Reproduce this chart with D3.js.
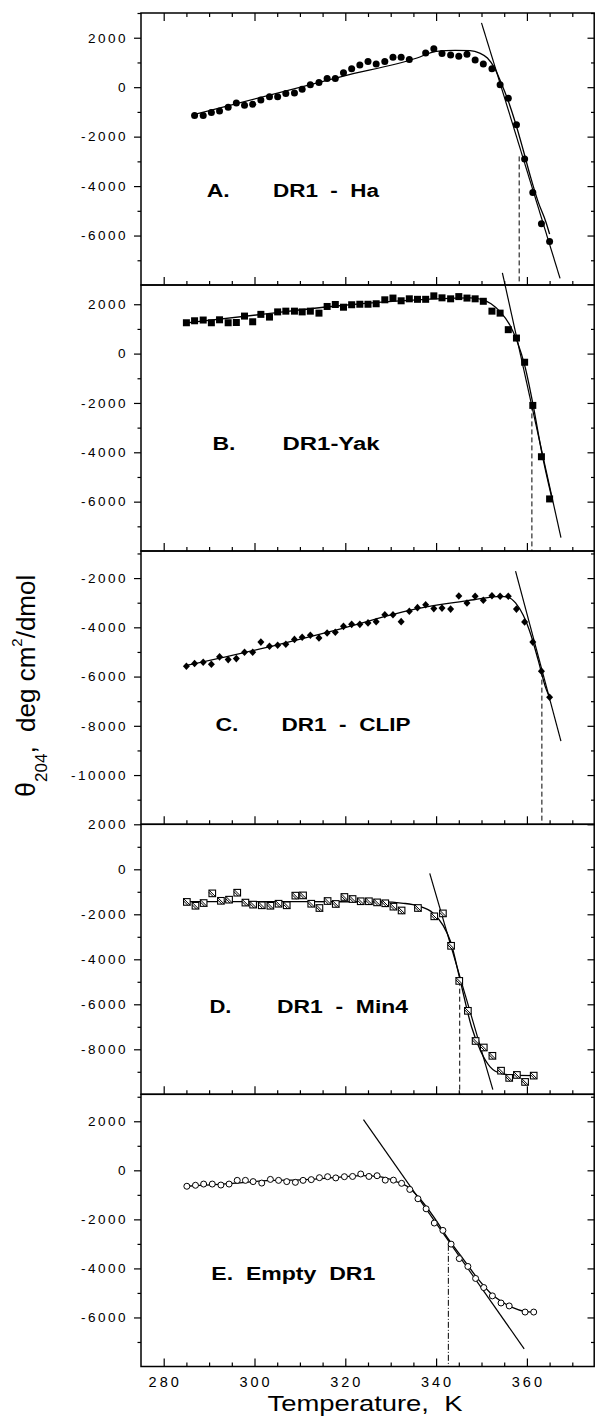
<!DOCTYPE html>
<html>
<head>
<meta charset="utf-8">
<script src="https://cdn.jsdelivr.net/npm/d3@7"></script>
<style>
  body { margin: 0; background: #fff; }
  svg { display: block; }
  text { font-family: "Liberation Sans", Arial, Helvetica, sans-serif; fill: #000; }
</style>
</head>
<body>
<div id="chart"></div>
<script>
// ---- data (temperature in K, theta in deg cm2/dmol) ----
const tempsA = [286.8, 288.7, 290.5, 292.3, 294.2, 296.0, 297.8, 299.6, 301.4, 303.3, 305.1, 306.9, 308.8, 310.5, 312.3, 314.2, 316.0, 317.8, 319.6, 321.4, 323.2, 325.0, 326.8, 328.7, 330.5, 332.3, 334.1, 337.7, 339.5, 341.3, 343.2, 345.0, 346.8, 348.6, 350.4, 352.3, 354.1, 355.9, 357.7, 359.5, 361.3, 363.2, 365.0];
const valuesA = [-1150, -1150, -1020, -960, -810, -640, -730, -690, -520, -390, -390, -260, -240, -80, 100, 190, 350, 350, 580, 750, 900, 1040, 940, 1040, 1210, 1210, 1120, 1380, 1550, 1360, 1300, 1250, 1330, 1100, 940, 750, 100, -450, -1520, -2900, -4260, -5520, -6240];

const tempsB = [285.0, 286.8, 288.7, 290.5, 292.3, 294.2, 296.0, 297.8, 299.6, 301.4, 303.3, 305.1, 306.9, 308.8, 310.5, 312.3, 314.2, 316.0, 317.8, 319.6, 321.4, 323.2, 325.0, 326.8, 328.7, 330.5, 332.3, 334.1, 335.9, 337.7, 339.5, 341.3, 343.2, 345.0, 346.8, 348.6, 350.4, 352.3, 354.1, 355.9, 357.7, 359.5, 361.3, 363.2, 365.0];
const valuesB = [1250, 1330, 1360, 1250, 1370, 1250, 1260, 1520, 1290, 1590, 1480, 1690, 1720, 1720, 1690, 1720, 1640, 1910, 1990, 1880, 1980, 2000, 2000, 2020, 2180, 2250, 2140, 2220, 2200, 2200, 2340, 2260, 2220, 2310, 2250, 2220, 2120, 1720, 1640, 970, 630, -350, -2100, -4180, -5890];

const tempsC = tempsB;
const valuesC = [-5580, -5470, -5420, -5500, -5200, -5310, -5270, -5010, -5010, -4600, -4770, -4730, -4690, -4490, -4400, -4320, -4430, -4230, -4200, -3960, -3880, -3880, -3820, -3770, -3490, -3490, -3770, -3350, -3200, -3080, -3240, -3220, -3260, -2730, -3010, -2740, -2900, -2720, -2740, -2740, -3260, -3780, -4600, -5780, -6840];

const tempsD = [285.1, 287.0, 288.8, 290.7, 292.6, 294.4, 296.2, 298.0, 299.7, 301.6, 303.5, 305.3, 307.1, 309.0, 310.7, 312.5, 314.3, 316.1, 317.9, 319.8, 321.6, 323.4, 325.2, 327.0, 328.8, 330.6, 332.4, 336.0, 339.6, 341.5, 343.3, 345.1, 347.0, 348.7, 350.5, 352.4, 354.3, 356.1, 357.8, 359.6, 361.5];
const valuesD = [-1450, -1620, -1500, -1070, -1400, -1350, -1040, -1480, -1570, -1600, -1620, -1530, -1600, -1170, -1160, -1530, -1720, -1410, -1540, -1230, -1320, -1420, -1420, -1470, -1510, -1660, -1830, -1720, -2090, -1960, -3400, -4960, -6290, -7630, -7920, -8290, -8950, -9270, -9140, -9450, -9170];

const tempsE = [285.1, 287.0, 288.8, 290.7, 292.6, 294.4, 296.2, 298.0, 299.7, 301.6, 303.5, 305.3, 307.1, 309.0, 310.7, 312.5, 314.3, 316.1, 317.9, 319.8, 321.6, 323.4, 325.2, 327.0, 328.8, 330.6, 332.4, 334.2, 336.0, 337.8, 339.6, 341.5, 343.3, 345.1, 347.0, 348.7, 350.5, 352.4, 354.3, 356.1, 359.6, 361.5];
const valuesE = [-650, -610, -560, -560, -600, -560, -410, -410, -460, -520, -370, -410, -460, -490, -410, -380, -300, -260, -310, -260, -250, -150, -250, -220, -400, -400, -530, -780, -1160, -1570, -2150, -2450, -3010, -3600, -3920, -4410, -4780, -5120, -5410, -5530, -5780, -5780];

// fitted curves [K, theta]
const fitA = [[286.8, -1100], [319.6, 450], [335.8, 1180], [340.0, 1450], [344.2, 1490], [347.5, 1480], [349.6, 1380], [351.3, 1180], [352.9, 770], [354.2, 230], [355.8, -510], [357.5, -1460], [359.2, -2550], [360.8, -3630], [362.5, -4650], [364.2, -5460], [365.0, -5940]];
const fitB = [[285.0, 1240], [302.5, 1610], [319.2, 1950], [335.8, 2180], [347.5, 2260], [350.0, 2200], [352.1, 2020], [354.2, 1680], [356.3, 1140], [357.9, 470], [359.6, -540], [361.3, -2020], [363.3, -4030], [365.4, -5780]];
const fitC = [[285.0, -5550], [302.5, -4820], [319.2, -4050], [335.8, -3240], [348.3, -2880], [354.2, -2740], [355.8, -2770], [357.5, -3010], [359.2, -3510], [360.8, -4260], [362.5, -5340], [364.2, -6490], [365.0, -6840]];
const fitD = [[285.1, -1440], [311.1, -1440], [327.8, -1450], [332.8, -1510], [336.1, -1630], [339.4, -1960], [341.5, -2480], [343.2, -3220], [345.3, -4930], [347.8, -7000], [349.9, -8120], [351.9, -8780], [354.4, -9080], [356.9, -9150], [361.5, -9170]];
const fitE = [[285.1, -650], [294.4, -545], [302.8, -420], [311.1, -380], [319.4, -270], [323.6, -220], [327.8, -270], [331.1, -450], [333.6, -650], [336.1, -1090], [339.4, -1880], [342.8, -2830], [346.1, -3650], [349.4, -4470], [351.9, -4990], [354.4, -5350], [356.9, -5600], [359.4, -5750], [361.5, -5780]];

// tangent lines and midpoint drop lines
const tangentA = [[350.0, 2600], [367.3, -7730]];
const tangentB = [[354.6, 3270], [367.5, -7460]];
const tangentC = [[357.5, -1720], [367.5, -8620]];
const tangentD = [[338.6, -180], [352.5, -9790]];
const tangentE = [[324.0, 2070], [359.4, -7280]];
const dropA = [358.3, -2800];
const dropB = [361.1, -2100];
const dropC = [363.3, -5800];
const dropD = [345.2, -4950];
const dropE = [342.7, -3040];

// axis ticks
const xLabels = [280, 300, 320, 340, 360];
const yLabelsA = [2000, 0, -2000, -4000, -6000];
const yLabelsB = [2000, 0, -2000, -4000, -6000];
const yLabelsC = [-2000, -4000, -6000, -8000, -10000];
const yLabelsD = [2000, 0, -2000, -4000, -6000, -8000];
const yLabelsE = [2000, 0, -2000, -4000, -6000];

// ---- layout ----
const width = 595, height = 1416;
const left = 141, right = 595;

const svg = d3.select("#chart").append("svg")
  .attr("width", width)
  .attr("height", height);

svg.append("rect").attr("width", width).attr("height", height).attr("fill", "#fff");

const xScale = d3.scaleLinear().domain([275, 375]).range([left, right]);

const panels = [
  { temps: tempsA, values: valuesA, fit: fitA, tangent: tangentA, drop: dropA, yLabels: yLabelsA,
    domain: [-8000, 3000], top: 13, bottom: 285, marker: "dot", topTicks: true,
    tag: { text: "A.", x: 206.7, w: 23 }, title: { text: "DR1  -  Ha", x: 273, w: 106 }, baseline: 197 },
  { temps: tempsB, values: valuesB, fit: fitB, tangent: tangentB, drop: dropB, yLabels: yLabelsB,
    domain: [-8000, 2780], top: 285, bottom: 551, marker: "square",
    tag: { text: "B.", x: 212.4, w: 23 }, title: { text: "DR1-Yak", x: 282.6, w: 97 }, baseline: 450 },
  { temps: tempsC, values: valuesC, fit: fitC, tangent: tangentC, drop: dropC, yLabels: yLabelsC,
    domain: [-12000, -900], top: 551, bottom: 824.3, marker: "diamond",
    tag: { text: "C.", x: 215.5, w: 23 }, title: { text: "DR1  -  CLIP", x: 281.5, w: 129 }, baseline: 730.7 },
  { temps: tempsD, values: valuesD, fit: fitD, tangent: tangentD, drop: dropD, yLabels: yLabelsD,
    domain: [-10000, 2000], top: 824.3, bottom: 1094.3, marker: "hatch",
    tag: { text: "D.", x: 209.4, w: 22 }, title: { text: "DR1  -  Min4", x: 277, w: 131 }, baseline: 1012.7 },
  { temps: tempsE, values: valuesE, fit: fitE, tangent: tangentE, drop: dropE, yLabels: yLabelsE,
    domain: [-8000, 3100], top: 1094.3, bottom: 1366.5, marker: "ring", dash: "6,2,1,2",
    title: { text: "E.  Empty  DR1", x: 211.3, w: 164 }, baseline: 1280 }
];

const xMinor = d3.range(280, 375, 5);
const xMajor = xMinor.filter(d => d % 20 === 0);

panels.forEach(p => {
  const yScale = d3.scaleLinear().domain(p.domain).range([p.bottom, p.top]);
  const g = svg.append("g");

  const yAll = d3.range(Math.ceil(p.domain[0] / 1000) * 1000, p.domain[1] + 1, 1000)
    .filter(v => v > p.domain[0]);
  const yMajor = yAll.filter(v => v % 2000 === 0);
  const yMinor = yAll.filter(v => v % 2000 !== 0);

  // left axis: ticks outward, labels only on listed values
  const leftMajor = g.append("g").attr("transform", `translate(${left},0)`)
    .call(d3.axisLeft(yScale).tickValues(yMajor).tickSize(7).tickPadding(6).tickSizeOuter(0)
      .tickFormat(v => p.yLabels.includes(v) ? String(v) : ""));
  g.append("g").attr("transform", `translate(${left},0)`)
    .call(d3.axisLeft(yScale).tickValues(yMinor).tickSize(3.5).tickSizeOuter(0).tickFormat(""));

  // right axis: ticks inward
  g.append("g").attr("transform", `translate(${right - 0.5},0)`)
    .call(d3.axisRight(yScale).tickValues(yMajor).tickSize(-7).tickSizeOuter(0).tickFormat(""));
  g.append("g").attr("transform", `translate(${right - 0.5},0)`)
    .call(d3.axisRight(yScale).tickValues(yMinor).tickSize(-3.5).tickSizeOuter(0).tickFormat(""));

  // bottom ticks point up into the panel
  g.append("g").attr("transform", `translate(0,${p.bottom})`)
    .call(d3.axisBottom(xScale).tickValues(xMajor).tickSize(-8).tickSizeOuter(0).tickFormat(""));
  g.append("g").attr("transform", `translate(0,${p.bottom})`)
    .call(d3.axisBottom(xScale).tickValues(xMinor.filter(d => d % 20 !== 0)).tickSize(-4).tickSizeOuter(0).tickFormat(""));

  if (p.topTicks) {
    g.append("g").attr("transform", `translate(0,${p.top})`)
      .call(d3.axisTop(xScale).tickValues(xMajor).tickSize(-8).tickSizeOuter(0).tickFormat(""));
    g.append("g").attr("transform", `translate(0,${p.top})`)
      .call(d3.axisTop(xScale).tickValues(xMinor.filter(d => d % 20 !== 0)).tickSize(-4).tickSizeOuter(0).tickFormat(""));
  }

  g.selectAll(".domain").remove();
  g.selectAll(".tick line").attr("stroke", "#000").attr("stroke-width", 1.2);
  leftMajor.selectAll(".tick text")
    .attr("font-size", 13.5)
    .attr("font-family", "Liberation Sans, Arial, sans-serif")
    .style("letter-spacing", "2.5px")
    .attr("fill", "#000");

  // frame
  g.append("rect")
    .attr("x", left).attr("y", p.top)
    .attr("width", right - 0.8 - left).attr("height", p.bottom - p.top)
    .attr("fill", "none").attr("stroke", "#000").attr("stroke-width", 1.5);

  // drop line at the midpoint
  g.append("line")
    .attr("x1", xScale(p.drop[0])).attr("x2", xScale(p.drop[0]))
    .attr("y1", yScale(p.drop[1])).attr("y2", p.bottom)
    .attr("stroke", "#000").attr("stroke-width", 1)
    .attr("stroke-dasharray", p.dash || "5,3");

  // tangent line
  g.append("line")
    .attr("x1", xScale(p.tangent[0][0])).attr("y1", yScale(p.tangent[0][1]))
    .attr("x2", xScale(p.tangent[1][0])).attr("y2", yScale(p.tangent[1][1]))
    .attr("stroke", "#000").attr("stroke-width", 1.2);

  // fitted curve
  const line = d3.line()
    .x(d => xScale(d[0]))
    .y(d => yScale(d[1]))
    .curve(d3.curveMonotoneX);
  g.append("path").datum(p.fit)
    .attr("d", line)
    .attr("fill", "none").attr("stroke", "#000").attr("stroke-width", 1.3);

  // data markers
  const pts = p.temps.map((t, i) => ({ t: t, v: p.values[i] }));
  const marks = g.selectAll(".pt").data(pts).join("g")
    .attr("class", "pt")
    .attr("transform", d => `translate(${xScale(d.t)},${yScale(d.v)})`);

  if (p.marker === "dot") {
    marks.append("circle").attr("r", 3.5).attr("fill", "#000");
  } else if (p.marker === "square") {
    marks.append("rect").attr("x", -3.5).attr("y", -3.5).attr("width", 7).attr("height", 7).attr("fill", "#000");
  } else if (p.marker === "diamond") {
    marks.append("path").attr("d", "M0,-3.8L3.5,0L0,3.8L-3.5,0Z").attr("fill", "#000");
  } else if (p.marker === "hatch") {
    marks.append("rect").attr("x", -3.3).attr("y", -3.3).attr("width", 6.6).attr("height", 6.6)
      .attr("fill", "#fff").attr("stroke", "#000").attr("stroke-width", 1.1);
    marks.append("path").attr("d", "M-3.3,-3.3L3.3,3.3M-3.3,-1L1,3.3")
      .attr("stroke", "#000").attr("stroke-width", 1);
  } else {
    marks.append("circle").attr("r", 3).attr("fill", "#fff").attr("stroke", "#000").attr("stroke-width", 1);
  }

  // panel label
  if (p.tag) {
    g.append("text")
      .attr("x", p.tag.x).attr("y", p.baseline)
      .attr("font-size", 18).attr("font-weight", "bold")
      .attr("textLength", p.tag.w).attr("lengthAdjust", "spacingAndGlyphs")
      .text(p.tag.text);
  }
  g.append("text")
    .attr("x", p.title.x).attr("y", p.baseline)
    .attr("font-size", 18).attr("font-weight", "bold")
    .attr("textLength", p.title.w).attr("lengthAdjust", "spacingAndGlyphs")
    .style("white-space", "pre")
    .text(p.title.text);
});

// x tick labels under the last panel
svg.append("g").selectAll("text")
  .data(xLabels)
  .join("text")
  .attr("x", d => xScale(d) + 1.5)
  .attr("y", 1387)
  .attr("text-anchor", "middle")
  .attr("font-size", 14.5)
  .style("letter-spacing", "3px")
  .text(d => d);

// x axis title
svg.append("text")
  .attr("x", 267.5).attr("y", 1410.5)
  .attr("font-size", 21.5)
  .attr("textLength", 195).attr("lengthAdjust", "spacingAndGlyphs")
  .style("white-space", "pre")
  .text("Temperature,  K");

// y axis title, rotated
const yTitle = svg.append("text")
  .attr("transform", "translate(35,797) rotate(-90)")
  .attr("font-size", 26)
  .style("white-space", "pre");
yTitle.append("tspan").attr("font-size", 27).text("θ");
yTitle.append("tspan").attr("font-size", 17).attr("dy", 12).text("204");
yTitle.append("tspan").attr("font-size", 26).attr("dy", -12).text(",  deg cm");
yTitle.append("tspan").attr("font-size", 15).attr("dy", -13).text("2");
yTitle.append("tspan").attr("font-size", 26).attr("dy", 13).text("/dmol");
</script>
</body>
</html>
